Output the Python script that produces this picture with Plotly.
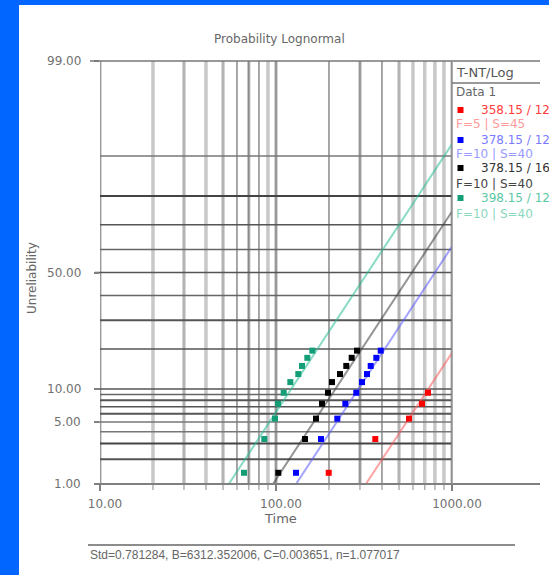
import math
import plotly.graph_objects as go

# ---------------- data ----------------
series_names = ["358.15 / 12", "378.15 / 12", "378.15 / 16", "398.15 / 12"]
series_counts = ["F=5 | S=45", "F=10 | S=40", "F=10 | S=40", "F=10 | S=40"]

red_time = [199.3, 366.6, 569.7, 675.3, 730.4]
red_unrel = [1.38, 3.35, 5.4, 7.45, 9.3]

blue_time = [129.9, 180.2, 223.0, 247.7, 285.9, 308.1, 328.9, 345.2, 371.5, 393.6]
blue_unrel = [1.38, 3.35, 5.4, 7.45, 9.3, 11.4, 13.2, 15.2, 17.4, 19.5]

black_time = [103.1, 146.2, 168.8, 182.5, 197.5, 208.1, 231.0, 250.8, 269.2, 288.5]
black_unrel = [1.38, 3.35, 5.4, 7.45, 9.3, 11.4, 13.2, 15.2, 17.4, 19.5]

green_time = [65.8, 85.8, 98.7, 102.7, 110.6, 120.6, 133.9, 140.5, 150.6, 160.8]
green_unrel = [1.38, 3.35, 5.4, 7.45, 9.3, 11.4, 13.2, 15.2, 17.4, 19.5]

# fitted lognormal lines: median life (time) per series, common log-std
fit_median = [1995.0, 800.0, 592.0, 332.0]
fit_std = 0.781284

y_tick_values = [1, 5, 10, 50, 99]
y_tick_labels = ["1.00", "5.00", "10.00", "50.00", "99.00"]
x_tick_values = [10, 100, 1000]
x_tick_labels = ["10.00", "100.00", "1000.00"]

grid_times = [10, 20, 30, 40, 50, 60, 70, 80, 90,
              100, 200, 300, 400, 500, 600, 700, 800, 900, 1000]
grid_probs = [2, 3, 4, 5, 6, 7, 8, 9, 10, 20, 30, 40, 50, 60, 70, 80, 90]

footer_text = "Std=0.781284, B=6312.352006, C=0.003651, n=1.077017"

# ---------------- styles ----------------
COLORS = ["#ff0000", "#0000ff", "#000000", "#149e78"]
LINE_COLORS = ["rgba(255,90,90,0.55)", "rgba(90,90,255,0.55)",
               "rgba(60,60,60,0.55)", "rgba(40,190,150,0.55)"]
NAME_COLORS = ["#ff3b3b", "#7a7aff", "#333333", "#5cc9a5"]
COUNT_COLORS = ["#ff9a9a", "#9a9aff", "#444444", "#8ad8bd"]
FONT = "DejaVu Sans, sans-serif"
FONT_A = "Liberation Sans, Arial, sans-serif"
TXT = "#707070"

# vertical grid style per line: 'b' light band, 'd' dark line, 'm' medium line
vstyle = ["bd", "b", "bm", "b", "bm", "d", "bd", "d", "b",
          "bd", "d", "bd", "d", "bm", "b", "b", "b", "b", "bd"]
# horizontal grid style per line: (color, width)
hstyle = {2: ("#555", 2), 3: ("#444", 2), 4: ("#777", 1.5), 5: ("#777", 1.5),
          6: ("#555", 2), 7: ("#555", 1.5), 8: ("#555", 2), 9: ("#666", 1.5),
          10: ("#555", 1.5), 20: ("#555", 1.5), 30: ("#555", 2), 40: ("#666", 1.5),
          50: ("#555", 1.5), 60: ("#666", 1.5), 70: ("#555", 1.5), 80: ("#444", 2),
          90: ("#777", 1.5)}


def probit(p):
    lo, hi = -10.0, 10.0
    for _ in range(80):
        mid = 0.5 * (lo + hi)
        if 0.5 * (1 + math.erf(mid / math.sqrt(2))) < p:
            lo = mid
        else:
            hi = mid
    return 0.5 * (lo + hi)


W, H = 549, 575
L, R, T, B = 100, 452, 61, 484


def X(px):
    return (px - L) / (R - L)


def Y(py):
    return (B - py) / (B - T)


fig = go.Figure()

all_t = [red_time, blue_time, black_time, green_time]
all_f = [red_unrel, blue_unrel, black_unrel, green_unrel]

# fit lines
for i in range(4):
    zs = [-3.0, 3.0]
    ts = [math.exp(math.log(fit_median[i]) + z * fit_std) for z in zs]
    fig.add_trace(go.Scatter(x=ts, y=zs, mode="lines",
                             line=dict(color=LINE_COLORS[i], width=2),
                             hoverinfo="skip", showlegend=False))
# points
for i in range(4):
    fig.add_trace(go.Scatter(x=all_t[i], y=[probit(f / 100) for f in all_f[i]],
                             mode="markers",
                             marker=dict(symbol="square", size=6, color=COLORS[i]),
                             showlegend=False, cliponaxis=False))

shapes = []
# white panel on blue page
shapes.append(dict(type="rect", xref="paper", yref="paper", x0=X(19), x1=X(W + 2),
                   y0=Y(H + 2), y1=Y(5), fillcolor="white", line=dict(width=0), layer="below"))

# vertical grid lines
for t, st in zip(grid_times, vstyle):
    if "b" in st:
        shapes.append(dict(type="line", xref="x", yref="paper", x0=t, x1=t, y0=0, y1=1,
                           line=dict(color="#c8c8c8", width=3.5), layer="below"))
    if "d" in st:
        shapes.append(dict(type="line", xref="x", yref="paper", x0=t, x1=t, y0=0, y1=1,
                           line=dict(color="#8a8a8a", width=1.5), layer="below"))
    if "m" in st:
        shapes.append(dict(type="line", xref="x", yref="paper", x0=t, x1=t, y0=0, y1=1,
                           line=dict(color="#a0a0a0", width=1), layer="below"))
    # small tick below axis
    shapes.append(dict(type="line", xref="x", yref="paper", x0=t, x1=t, y0=0, y1=Y(B + 6),
                       line=dict(color="#b0b0b0", width=1.5), layer="below"))

# horizontal grid lines
for p in grid_probs:
    c, w = hstyle[p]
    z = probit(p / 100)
    x0 = X(95) if p in y_tick_values else 0
    shapes.append(dict(type="line", xref="paper", yref="y", x0=x0, x1=1, y0=z, y1=z,
                       line=dict(color=c, width=w), layer="below"))

# frame lines
shapes.append(dict(type="line", xref="paper", yref="paper", x0=X(90), x1=X(540),
                   y0=1, y1=1, line=dict(color="#777", width=1.5)))
shapes.append(dict(type="line", xref="paper", yref="paper", x0=X(95), x1=X(540),
                   y0=0, y1=0, line=dict(color="#808080", width=2)))
shapes.append(dict(type="line", xref="paper", yref="paper", x0=1, x1=1,
                   y0=0, y1=1, line=dict(color="#909090", width=1.5)))
shapes.append(dict(type="line", xref="paper", yref="paper", x0=X(452), x1=X(540),
                   y0=Y(83), y1=Y(83), line=dict(color="#777", width=1.5)))
# footer rule
shapes.append(dict(type="line", xref="paper", yref="paper", x0=X(88), x1=X(515),
                   y0=Y(545), y1=Y(545), line=dict(color="#666", width=1.5)))

# legend swatches
leg_marker_y = [110, 140, 168, 198]
leg_count_y = [124, 154, 184, 214]
for i in range(4):
    shapes.append(dict(type="rect", xref="paper", yref="paper", x0=X(457.5), x1=X(463.5),
                       y0=Y(leg_marker_y[i] + 3), y1=Y(leg_marker_y[i] - 3),
                       fillcolor=COLORS[i], line=dict(width=0)))

ann = []


def text(s, px, py, color="#666", xanchor="center", angle=0, size=12, family=FONT):
    ann.append(dict(text=s, x=X(px), y=Y(py), xref="paper", yref="paper",
                    xanchor=xanchor, yanchor="middle", showarrow=False, textangle=angle,
                    font=dict(family=family, size=size, color=color)))


text("Probability Lognormal", 279, 39)
text("Unreliability", 32, 278, angle=-90)
text("Time", 280, 518, size=13)
text(footer_text, 88, 555, xanchor="left", family=FONT_A)
text("T-NT/Log", 454, 72, color="#555", xanchor="left", size=13)
text("Data 1", 454, 92, xanchor="left")
for i in range(4):
    text(series_names[i], 479, leg_marker_y[i], color=NAME_COLORS[i], xanchor="left")
    text(series_counts[i], 454, leg_count_y[i], color=COUNT_COLORS[i], xanchor="left")

# y tick labels placed on the y scale, right-aligned left of the axis
for v, lab in zip(y_tick_values, y_tick_labels):
    ann.append(dict(text=lab, x=X(83), y=probit(v / 100), xref="paper", yref="y",
                    xanchor="right", yanchor="middle", showarrow=False,
                    font=dict(family=FONT, size=12, color=TXT)))

fig.update_layout(
    width=W, height=H, autosize=False,
    margin=dict(l=L, r=W - R, t=T, b=H - B, pad=0),
    paper_bgcolor="#0066ff", plot_bgcolor="white",
    showlegend=False, shapes=shapes, annotations=ann,
    font=dict(family=FONT, size=12, color=TXT),
)
fig.update_xaxes(type="log", range=[1, 3], showgrid=False, zeroline=False, showline=False,
                 tickvals=x_tick_values, ticktext=x_tick_labels, ticks="outside",
                 ticklen=6, tickcolor="#808080", tickwidth=1.5,
                 tickfont=dict(family=FONT, size=12, color=TXT), ticklabelshift=5,
                 ticklabelstandoff=3)
fig.update_yaxes(range=[probit(0.01), probit(0.99)], showgrid=False, zeroline=False,
                 showline=False, tickvals=[probit(v / 100) for v in y_tick_values],
                 showticklabels=False, ticks="outside", ticklen=5, tickcolor="#808080",
                 tickwidth=1.5)

fig.write_html("out.html", config={"displayModeBar": False},
               post_script="document.body.style.margin='0px';"
                           "document.body.style.overflow='hidden';")
